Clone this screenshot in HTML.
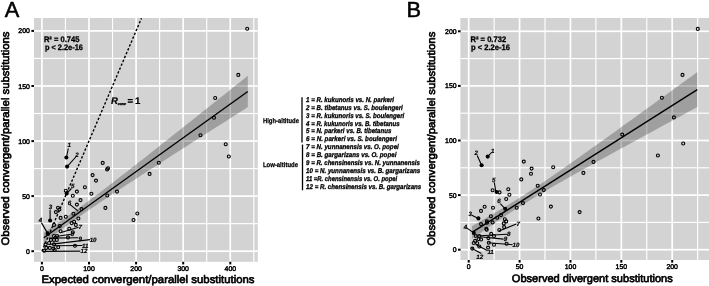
<!DOCTYPE html>
<html><head><meta charset="utf-8"><title>Figure</title>
<style>html,body{margin:0;padding:0;background:#fff}body{width:709px;height:286px;overflow:hidden}
svg{display:block}text{font-family:"Liberation Sans",sans-serif;fill:#000;text-rendering:geometricPrecision}</style></head>
<body><svg width="709" height="286" viewBox="0 0 709 286">
<rect width="709" height="286" fill="#fff"/>
<rect x="34" y="18" width="223.8" height="243.8" fill="#d3d3d3"/>
<rect x="41.05" y="18" width="1.7" height="243.8" fill="#fff"/>
<rect x="88.14" y="18" width="1.7" height="243.8" fill="#fff"/>
<rect x="135.23" y="18" width="1.7" height="243.8" fill="#fff"/>
<rect x="182.32" y="18" width="1.7" height="243.8" fill="#fff"/>
<rect x="229.41" y="18" width="1.7" height="243.8" fill="#fff"/>
<rect x="64.87" y="18" width="1.15" height="243.8" fill="#fff"/>
<rect x="111.96" y="18" width="1.15" height="243.8" fill="#fff"/>
<rect x="159.05" y="18" width="1.15" height="243.8" fill="#fff"/>
<rect x="206.14" y="18" width="1.15" height="243.8" fill="#fff"/>
<rect x="253.23" y="18" width="1.15" height="243.8" fill="#fff"/>
<rect x="34" y="250.35" width="223.8" height="1.7" fill="#fff"/>
<rect x="34" y="195.28" width="223.8" height="1.7" fill="#fff"/>
<rect x="34" y="140.20" width="223.8" height="1.7" fill="#fff"/>
<rect x="34" y="85.12" width="223.8" height="1.7" fill="#fff"/>
<rect x="34" y="30.05" width="223.8" height="1.7" fill="#fff"/>
<rect x="34" y="223.09" width="223.8" height="1.15" fill="#fff"/>
<rect x="34" y="168.01" width="223.8" height="1.15" fill="#fff"/>
<rect x="34" y="112.94" width="223.8" height="1.15" fill="#fff"/>
<rect x="34" y="57.86" width="223.8" height="1.15" fill="#fff"/>
<polygon points="43.8,232.8 47.8,230.1 51.8,227.3 55.8,224.6 59.8,221.8 63.8,219.0 67.8,216.1 71.8,213.2 75.8,210.4 79.8,207.4 83.8,204.5 87.8,201.5 91.8,198.5 95.8,195.5 99.8,192.5 103.8,189.5 107.8,186.4 111.8,183.3 115.8,180.2 119.8,177.1 123.8,174.0 127.8,170.9 131.8,167.8 135.8,164.7 139.8,161.5 143.8,158.4 147.8,155.2 151.8,152.1 155.8,148.9 159.8,145.8 163.8,142.6 167.8,139.4 171.8,136.3 175.8,133.1 179.8,129.9 183.8,126.7 187.8,123.6 191.8,120.4 195.8,117.2 199.8,114.0 203.8,110.8 207.8,107.7 211.8,104.5 215.8,101.3 219.8,98.1 223.8,94.9 227.8,91.7 231.8,88.5 235.8,85.3 239.8,82.2 243.8,79.0 247.8,75.8 247.8,75.8 247.8,107.1 247.8,107.1 243.8,109.7 239.8,112.2 235.8,114.8 231.8,117.3 227.8,119.9 223.8,122.4 219.8,125.0 215.8,127.5 211.8,130.1 207.8,132.6 203.8,135.2 199.8,137.7 195.8,140.3 191.8,142.8 187.8,145.4 183.8,147.9 179.8,150.5 175.8,153.1 171.8,155.6 167.8,158.2 163.8,160.8 159.8,163.3 155.8,165.9 151.8,168.5 147.8,171.1 143.8,173.7 139.8,176.3 135.8,178.9 131.8,181.5 127.8,184.1 123.8,186.7 119.8,189.3 115.8,192.0 111.8,194.6 107.8,197.3 103.8,200.0 99.8,202.6 95.8,205.4 91.8,208.1 87.8,210.8 83.8,213.6 79.8,216.4 75.8,219.2 71.8,222.1 67.8,224.9 63.8,227.8 59.8,230.7 55.8,233.7 51.8,236.7 47.8,239.6 43.8,242.7" fill="#404040" fill-opacity="0.35"/>
<line x1="43.8" y1="237.7" x2="247.8" y2="91.5" stroke="#000" stroke-width="1.4"/>
<line x1="41.9" y1="251.2" x2="141.5" y2="18.2" stroke="#000" stroke-width="1.4" stroke-dasharray="2.4 1.8"/>
<circle cx="247.2" cy="28.7" r="1.5" fill="none" stroke="#000" stroke-width="1.1"/>
<circle cx="238.3" cy="74.9" r="1.5" fill="none" stroke="#000" stroke-width="1.1"/>
<circle cx="215.2" cy="98.0" r="1.5" fill="none" stroke="#000" stroke-width="1.1"/>
<circle cx="214.0" cy="117.7" r="1.5" fill="none" stroke="#000" stroke-width="1.1"/>
<circle cx="200.5" cy="135.2" r="1.5" fill="none" stroke="#000" stroke-width="1.1"/>
<circle cx="225.7" cy="144.2" r="1.5" fill="none" stroke="#000" stroke-width="1.1"/>
<circle cx="228.8" cy="156.5" r="1.5" fill="none" stroke="#000" stroke-width="1.1"/>
<circle cx="102.7" cy="162.9" r="1.5" fill="none" stroke="#000" stroke-width="1.1"/>
<circle cx="107.1" cy="169.4" r="1.5" fill="none" stroke="#000" stroke-width="1.1"/>
<circle cx="108.0" cy="168.3" r="1.5" fill="none" stroke="#000" stroke-width="1.1"/>
<circle cx="92.6" cy="175.1" r="1.5" fill="none" stroke="#000" stroke-width="1.1"/>
<circle cx="96.0" cy="180.6" r="1.5" fill="none" stroke="#000" stroke-width="1.1"/>
<circle cx="84.9" cy="187.3" r="1.5" fill="none" stroke="#000" stroke-width="1.1"/>
<circle cx="158.8" cy="162.8" r="1.5" fill="none" stroke="#000" stroke-width="1.1"/>
<circle cx="149.6" cy="173.9" r="1.5" fill="none" stroke="#000" stroke-width="1.1"/>
<circle cx="76.9" cy="191.6" r="1.5" fill="none" stroke="#000" stroke-width="1.1"/>
<circle cx="72.8" cy="195.8" r="1.5" fill="none" stroke="#000" stroke-width="1.1"/>
<circle cx="58.0" cy="207.7" r="1.5" fill="none" stroke="#000" stroke-width="1.1"/>
<circle cx="59.4" cy="209.5" r="1.5" fill="none" stroke="#000" stroke-width="1.1"/>
<circle cx="55.9" cy="212.1" r="1.5" fill="none" stroke="#000" stroke-width="1.1"/>
<circle cx="76.9" cy="204.6" r="1.5" fill="none" stroke="#000" stroke-width="1.1"/>
<circle cx="65.8" cy="216.8" r="1.5" fill="none" stroke="#000" stroke-width="1.1"/>
<circle cx="60.6" cy="217.9" r="1.5" fill="none" stroke="#000" stroke-width="1.1"/>
<circle cx="73.4" cy="213.8" r="1.5" fill="none" stroke="#000" stroke-width="1.1"/>
<circle cx="54.0" cy="224.9" r="1.5" fill="none" stroke="#000" stroke-width="1.1"/>
<circle cx="59.7" cy="226.1" r="1.5" fill="none" stroke="#000" stroke-width="1.1"/>
<circle cx="74.1" cy="221.7" r="1.5" fill="none" stroke="#000" stroke-width="1.1"/>
<circle cx="71.6" cy="223.1" r="1.5" fill="none" stroke="#000" stroke-width="1.1"/>
<circle cx="75.8" cy="224.9" r="1.5" fill="none" stroke="#000" stroke-width="1.1"/>
<circle cx="69.3" cy="228.7" r="1.5" fill="none" stroke="#000" stroke-width="1.1"/>
<circle cx="60.6" cy="231.3" r="1.5" fill="none" stroke="#000" stroke-width="1.1"/>
<circle cx="72.8" cy="232.2" r="1.5" fill="none" stroke="#000" stroke-width="1.1"/>
<circle cx="65.8" cy="190.7" r="1.5" fill="none" stroke="#000" stroke-width="1.1"/>
<circle cx="91.4" cy="193.8" r="1.5" fill="none" stroke="#000" stroke-width="1.1"/>
<circle cx="80.5" cy="200.1" r="1.5" fill="none" stroke="#000" stroke-width="1.1"/>
<circle cx="107.3" cy="195.5" r="1.5" fill="none" stroke="#000" stroke-width="1.1"/>
<circle cx="117.0" cy="191.6" r="1.5" fill="none" stroke="#000" stroke-width="1.1"/>
<circle cx="105.4" cy="207.9" r="1.5" fill="none" stroke="#000" stroke-width="1.1"/>
<circle cx="81.5" cy="209.1" r="1.5" fill="none" stroke="#000" stroke-width="1.1"/>
<circle cx="78.4" cy="218.5" r="1.5" fill="none" stroke="#000" stroke-width="1.1"/>
<circle cx="137.3" cy="213.5" r="1.5" fill="none" stroke="#000" stroke-width="1.1"/>
<circle cx="133.5" cy="220.0" r="1.5" fill="none" stroke="#000" stroke-width="1.1"/>
<circle cx="54.0" cy="236.0" r="1.5" fill="none" stroke="#000" stroke-width="1.1"/>
<circle cx="57.0" cy="236.0" r="1.5" fill="none" stroke="#000" stroke-width="1.1"/>
<circle cx="68.0" cy="237.4" r="1.5" fill="none" stroke="#000" stroke-width="1.1"/>
<circle cx="50.9" cy="239.9" r="1.5" fill="none" stroke="#000" stroke-width="1.1"/>
<circle cx="54.0" cy="239.9" r="1.5" fill="none" stroke="#000" stroke-width="1.1"/>
<circle cx="56.8" cy="239.9" r="1.5" fill="none" stroke="#000" stroke-width="1.1"/>
<circle cx="49.1" cy="243.0" r="1.5" fill="none" stroke="#000" stroke-width="1.1"/>
<circle cx="45.6" cy="244.4" r="1.5" fill="none" stroke="#000" stroke-width="1.1"/>
<circle cx="54.0" cy="244.4" r="1.5" fill="none" stroke="#000" stroke-width="1.1"/>
<circle cx="75.0" cy="245.8" r="1.5" fill="none" stroke="#000" stroke-width="1.1"/>
<circle cx="58.2" cy="247.2" r="1.5" fill="none" stroke="#000" stroke-width="1.1"/>
<circle cx="46.3" cy="247.9" r="1.5" fill="none" stroke="#000" stroke-width="1.1"/>
<circle cx="49.8" cy="247.9" r="1.5" fill="none" stroke="#000" stroke-width="1.1"/>
<circle cx="53.3" cy="248.6" r="1.5" fill="none" stroke="#000" stroke-width="1.1"/>
<circle cx="44.2" cy="250.7" r="1.5" fill="none" stroke="#000" stroke-width="1.1"/>
<circle cx="54.7" cy="250.0" r="1.5" fill="none" stroke="#000" stroke-width="1.1"/>
<circle cx="66.4" cy="157.5" r="2.05" fill="#000"/>
<line x1="66.4" y1="157.5" x2="68.3" y2="148.5" stroke="#000" stroke-width="1.1"/>
<text x="69.3" y="147.4" font-size="6.2" text-anchor="middle" font-weight="bold" font-style="italic" stroke="#000" stroke-width="0.2">1</text>
<circle cx="67.1" cy="166.6" r="2.05" fill="#000"/>
<line x1="67.1" y1="166.6" x2="75.8" y2="157.0" stroke="#000" stroke-width="1.1"/>
<text x="77.0" y="156.5" font-size="6.2" text-anchor="middle" font-weight="bold" font-style="italic" stroke="#000" stroke-width="0.2">2</text>
<circle cx="50.1" cy="220.5" r="2.05" fill="#000"/>
<line x1="50.1" y1="220.5" x2="50.1" y2="209.8" stroke="#000" stroke-width="1.1"/>
<text x="50.5" y="209.1" font-size="6.2" text-anchor="middle" font-weight="bold" font-style="italic" stroke="#000" stroke-width="0.2">3</text>
<circle cx="47.7" cy="233.4" r="2.05" fill="#000"/>
<line x1="47.7" y1="233.4" x2="41.4" y2="222.6" stroke="#000" stroke-width="1.1"/>
<text x="40.6" y="222.2" font-size="6.2" text-anchor="middle" font-weight="bold" font-style="italic" stroke="#000" stroke-width="0.2">4</text>
<circle cx="66.7" cy="193.4" r="2.05" fill="#000"/>
<line x1="66.7" y1="193.4" x2="71.5" y2="188.5" stroke="#000" stroke-width="1.1"/>
<text x="72.8" y="188.4" font-size="6.2" text-anchor="middle" font-weight="bold" font-style="italic" stroke="#000" stroke-width="0.2">5</text>
<line x1="78.1" y1="211.2" x2="69.9" y2="204.4" stroke="#000" stroke-width="1.1"/>
<text x="69.5" y="204.5" font-size="6.2" text-anchor="middle" font-weight="bold" font-style="italic" stroke="#000" stroke-width="0.2">6</text>
<line x1="61.0" y1="232.5" x2="78.5" y2="227.3" stroke="#000" stroke-width="1.1"/>
<text x="80.2" y="228.8" font-size="6.2" text-anchor="middle" font-weight="bold" font-style="italic" stroke="#000" stroke-width="0.2">7</text>
<line x1="54.0" y1="236.7" x2="71.0" y2="234.3" stroke="#000" stroke-width="1.1"/>
<text x="72.4" y="236.2" font-size="6.2" text-anchor="middle" font-weight="bold" font-style="italic" stroke="#000" stroke-width="0.2">8</text>
<line x1="49.1" y1="238.1" x2="78.3" y2="237.7" stroke="#000" stroke-width="1.1"/>
<text x="80.2" y="240.6" font-size="6.2" text-anchor="middle" font-weight="bold" font-style="italic" stroke="#000" stroke-width="0.2">9</text>
<line x1="49.8" y1="244.4" x2="90.0" y2="239.6" stroke="#000" stroke-width="1.1"/>
<text x="93.1" y="242.0" font-size="6.2" text-anchor="middle" font-weight="bold" font-style="italic" stroke="#000" stroke-width="0.2">10</text>
<line x1="54.0" y1="245.8" x2="82.4" y2="245.5" stroke="#000" stroke-width="1.1"/>
<text x="85.3" y="247.7" font-size="6.2" text-anchor="middle" font-weight="bold" font-style="italic" stroke="#000" stroke-width="0.2">11</text>
<line x1="42.8" y1="251.4" x2="80.4" y2="251.1" stroke="#000" stroke-width="1.1"/>
<text x="83.9" y="253.4" font-size="6.2" text-anchor="middle" font-weight="bold" font-style="italic" stroke="#000" stroke-width="0.2">12</text>
<text x="43.9" y="41.8" font-size="8" text-anchor="start" font-weight="bold" font-style="normal" textLength="35.6" lengthAdjust="spacingAndGlyphs" stroke="#000" stroke-width="0.3">R² = 0.745</text>
<text x="44.9" y="49.5" font-size="8" text-anchor="start" font-weight="bold" font-style="normal" textLength="38" lengthAdjust="spacingAndGlyphs" stroke="#000" stroke-width="0.3">p &lt; 2.2e-16</text>
<text y="104.2" font-size="9.6" font-weight="bold" stroke="#000" stroke-width="0.2"><tspan x="111.0" font-style="italic">R</tspan><tspan x="117.8" y="104.6" font-size="3.4" font-style="italic" stroke-width="0.35" textLength="8" lengthAdjust="spacingAndGlyphs">conv</tspan><tspan font-size="0.1"> </tspan><tspan x="127.4" y="104.2">= </tspan><tspan x="135.1">1</tspan></text>
<rect x="31.4" y="250.2" width="2.6" height="2" fill="#000"/>
<text x="29.8" y="253.7" font-size="6.9" text-anchor="end" font-weight="normal" font-style="normal" stroke="#000" stroke-width="0.45">0</text>
<rect x="31.4" y="195.1" width="2.6" height="2" fill="#000"/>
<text x="29.8" y="198.6" font-size="6.9" text-anchor="end" font-weight="normal" font-style="normal" stroke="#000" stroke-width="0.45">50</text>
<rect x="31.4" y="140.1" width="2.6" height="2" fill="#000"/>
<text x="29.8" y="143.6" font-size="6.9" text-anchor="end" font-weight="normal" font-style="normal" stroke="#000" stroke-width="0.45">100</text>
<rect x="31.4" y="85.0" width="2.6" height="2" fill="#000"/>
<text x="29.8" y="88.5" font-size="6.9" text-anchor="end" font-weight="normal" font-style="normal" stroke="#000" stroke-width="0.45">150</text>
<rect x="31.4" y="29.9" width="2.6" height="2" fill="#000"/>
<text x="29.8" y="33.4" font-size="6.9" text-anchor="end" font-weight="normal" font-style="normal" stroke="#000" stroke-width="0.45">200</text>
<rect x="40.9" y="261.8" width="2" height="2.6" fill="#000"/>
<text x="41.9" y="271.2" font-size="6.9" text-anchor="middle" font-weight="normal" font-style="normal" stroke="#000" stroke-width="0.45">0</text>
<rect x="88.0" y="261.8" width="2" height="2.6" fill="#000"/>
<text x="89.0" y="271.2" font-size="6.9" text-anchor="middle" font-weight="normal" font-style="normal" stroke="#000" stroke-width="0.45">100</text>
<rect x="135.1" y="261.8" width="2" height="2.6" fill="#000"/>
<text x="136.1" y="271.2" font-size="6.9" text-anchor="middle" font-weight="normal" font-style="normal" stroke="#000" stroke-width="0.45">200</text>
<rect x="182.2" y="261.8" width="2" height="2.6" fill="#000"/>
<text x="183.2" y="271.2" font-size="6.9" text-anchor="middle" font-weight="normal" font-style="normal" stroke="#000" stroke-width="0.45">300</text>
<rect x="229.3" y="261.8" width="2" height="2.6" fill="#000"/>
<text x="230.3" y="271.2" font-size="6.9" text-anchor="middle" font-weight="normal" font-style="normal" stroke="#000" stroke-width="0.45">400</text>
<text x="41.5" y="283.1" font-size="10.8" text-anchor="start" font-weight="normal" font-style="normal" textLength="213" lengthAdjust="spacingAndGlyphs" stroke="#000" stroke-width="0.65">Expected convergent/parallel substitutions</text>
<text transform="translate(8.9,245.5) rotate(-90)" font-size="10.8" textLength="214" lengthAdjust="spacingAndGlyphs" stroke="#000" stroke-width="0.65">Observed convergent/parallel substitutions</text>
<text x="4.8" y="17.2" font-size="21.8" text-anchor="start" font-weight="normal" font-style="normal" stroke="#000" stroke-width="0.5">A</text>
<text x="263.0" y="123.4" font-size="6.9" text-anchor="start" font-weight="bold" font-style="normal" textLength="35.9" lengthAdjust="spacingAndGlyphs" stroke="#000" stroke-width="0.25">High-altitude</text>
<text x="262.9" y="167.4" font-size="6.9" text-anchor="start" font-weight="bold" font-style="normal" textLength="35.1" lengthAdjust="spacingAndGlyphs" stroke="#000" stroke-width="0.25">Low-altitude</text>
<line x1="302.0" y1="97.3" x2="302.0" y2="142.4" stroke="#000" stroke-width="1.3"/>
<line x1="302.5" y1="144.6" x2="302.5" y2="190.3" stroke="#000" stroke-width="1.3"/>
<text x="306.1" y="101.9" font-size="6.9" text-anchor="start" font-weight="bold" font-style="italic" textLength="87.9" lengthAdjust="spacingAndGlyphs" stroke="#000" stroke-width="0.3">1 = R. kukunoris vs. N. parkeri</text>
<text x="306.1" y="109.8" font-size="6.9" text-anchor="start" font-weight="bold" font-style="italic" textLength="96.7" lengthAdjust="spacingAndGlyphs" stroke="#000" stroke-width="0.3">2 = B. tibetanus vs. S. boulengeri</text>
<text x="306.1" y="117.6" font-size="6.9" text-anchor="start" font-weight="bold" font-style="italic" textLength="98.2" lengthAdjust="spacingAndGlyphs" stroke="#000" stroke-width="0.3">3 = R. kukunoris vs. S. boulengeri</text>
<text x="306.1" y="125.5" font-size="6.9" text-anchor="start" font-weight="bold" font-style="italic" textLength="93.5" lengthAdjust="spacingAndGlyphs" stroke="#000" stroke-width="0.3">4 = R. kukunoris vs. B. tibetanus</text>
<text x="306.1" y="133.4" font-size="6.9" text-anchor="start" font-weight="bold" font-style="italic" textLength="85.2" lengthAdjust="spacingAndGlyphs" stroke="#000" stroke-width="0.3">5 = N. parkeri vs. B. tibetanus</text>
<text x="306.1" y="141.2" font-size="6.9" text-anchor="start" font-weight="bold" font-style="italic" textLength="90.8" lengthAdjust="spacingAndGlyphs" stroke="#000" stroke-width="0.3">6 = N. parkeri vs. S. boulengeri</text>
<text x="306.1" y="149.1" font-size="6.9" text-anchor="start" font-weight="bold" font-style="italic" textLength="92.7" lengthAdjust="spacingAndGlyphs" stroke="#000" stroke-width="0.3">7 = N. yunnanensis vs. O. popei</text>
<text x="306.1" y="157.0" font-size="6.9" text-anchor="start" font-weight="bold" font-style="italic" textLength="90.3" lengthAdjust="spacingAndGlyphs" stroke="#000" stroke-width="0.3">8 = B. gargarizans vs. O. popei</text>
<text x="306.1" y="164.9" font-size="6.9" text-anchor="start" font-weight="bold" font-style="italic" textLength="113.8" lengthAdjust="spacingAndGlyphs" stroke="#000" stroke-width="0.3">9 = R. chensinensis vs. N. yunnanensis</text>
<text x="306.1" y="172.7" font-size="6.9" text-anchor="start" font-weight="bold" font-style="italic" textLength="114.2" lengthAdjust="spacingAndGlyphs" stroke="#000" stroke-width="0.3">10 = N. yunnanensis vs. B. gargarizans</text>
<text x="306.1" y="180.6" font-size="6.9" text-anchor="start" font-weight="bold" font-style="italic" textLength="91.1" lengthAdjust="spacingAndGlyphs" stroke="#000" stroke-width="0.3">11 =R. chensinensis vs. O. popei</text>
<text x="306.1" y="188.5" font-size="6.9" text-anchor="start" font-weight="bold" font-style="italic" textLength="115.2" lengthAdjust="spacingAndGlyphs" stroke="#000" stroke-width="0.3">12 = R. chensinensis vs. B. gargarizans</text>
<rect x="460.4" y="18" width="248.60000000000002" height="242" fill="#d3d3d3"/>
<rect x="467.85" y="18" width="1.7" height="242" fill="#fff"/>
<rect x="518.73" y="18" width="1.7" height="242" fill="#fff"/>
<rect x="569.60" y="18" width="1.7" height="242" fill="#fff"/>
<rect x="620.48" y="18" width="1.7" height="242" fill="#fff"/>
<rect x="671.35" y="18" width="1.7" height="242" fill="#fff"/>
<rect x="493.56" y="18" width="1.15" height="242" fill="#fff"/>
<rect x="544.44" y="18" width="1.15" height="242" fill="#fff"/>
<rect x="595.31" y="18" width="1.15" height="242" fill="#fff"/>
<rect x="646.19" y="18" width="1.15" height="242" fill="#fff"/>
<rect x="697.06" y="18" width="1.15" height="242" fill="#fff"/>
<rect x="460.4" y="248.85" width="248.60000000000002" height="1.7" fill="#fff"/>
<rect x="460.4" y="194.25" width="248.60000000000002" height="1.7" fill="#fff"/>
<rect x="460.4" y="139.65" width="248.60000000000002" height="1.7" fill="#fff"/>
<rect x="460.4" y="85.05" width="248.60000000000002" height="1.7" fill="#fff"/>
<rect x="460.4" y="30.45" width="248.60000000000002" height="1.7" fill="#fff"/>
<rect x="460.4" y="221.82" width="248.60000000000002" height="1.15" fill="#fff"/>
<rect x="460.4" y="167.22" width="248.60000000000002" height="1.15" fill="#fff"/>
<rect x="460.4" y="112.62" width="248.60000000000002" height="1.15" fill="#fff"/>
<rect x="460.4" y="58.02" width="248.60000000000002" height="1.15" fill="#fff"/>
<polygon points="472.0,226.0 476.0,223.7 480.0,221.4 484.0,219.1 488.0,216.8 492.0,214.5 496.0,212.1 500.0,209.8 504.0,207.4 508.0,204.9 512.0,202.5 516.0,200.0 520.0,197.5 524.0,194.9 528.0,192.3 532.0,189.7 536.0,187.1 540.0,184.4 544.0,181.7 548.0,179.0 552.0,176.3 556.0,173.5 560.0,170.7 564.0,167.9 568.0,165.1 572.0,162.3 576.0,159.5 580.0,156.7 584.0,153.8 588.0,151.0 592.0,148.1 596.0,145.3 600.0,142.4 604.0,139.5 608.0,136.7 612.0,133.8 616.0,130.9 620.0,128.0 624.0,125.1 628.0,122.3 632.0,119.4 636.0,116.5 640.0,113.6 644.0,110.7 648.0,107.8 652.0,104.9 656.0,102.0 660.0,99.1 664.0,96.2 668.0,93.3 672.0,90.4 676.0,87.5 680.0,84.6 684.0,81.7 688.0,78.8 692.0,75.9 696.0,73.0 697.3,72.1 697.3,107.1 696.0,107.8 692.0,109.9 688.0,112.1 684.0,114.3 680.0,116.5 676.0,118.6 672.0,120.8 668.0,123.0 664.0,125.1 660.0,127.3 656.0,129.5 652.0,131.7 648.0,133.8 644.0,136.0 640.0,138.2 636.0,140.4 632.0,142.6 628.0,144.8 624.0,146.9 620.0,149.1 616.0,151.3 612.0,153.5 608.0,155.7 604.0,157.9 600.0,160.1 596.0,162.3 592.0,164.5 588.0,166.8 584.0,169.0 580.0,171.2 576.0,173.5 572.0,175.7 568.0,178.0 564.0,180.2 560.0,182.5 556.0,184.8 552.0,187.1 548.0,189.5 544.0,191.8 540.0,194.2 536.0,196.6 532.0,199.0 528.0,201.5 524.0,204.0 520.0,206.5 516.0,209.0 512.0,211.6 508.0,214.2 504.0,216.9 500.0,219.5 496.0,222.2 492.0,225.0 488.0,227.7 484.0,230.5 480.0,233.2 476.0,236.0 472.0,238.8" fill="#404040" fill-opacity="0.35"/>
<line x1="472.0" y1="232.4" x2="697.3" y2="89.6" stroke="#000" stroke-width="1.4"/>
<circle cx="697.8" cy="28.9" r="1.5" fill="none" stroke="#000" stroke-width="1.1"/>
<circle cx="682.5" cy="74.9" r="1.5" fill="none" stroke="#000" stroke-width="1.1"/>
<circle cx="661.9" cy="97.7" r="1.5" fill="none" stroke="#000" stroke-width="1.1"/>
<circle cx="673.9" cy="117.4" r="1.5" fill="none" stroke="#000" stroke-width="1.1"/>
<circle cx="683.2" cy="143.5" r="1.5" fill="none" stroke="#000" stroke-width="1.1"/>
<circle cx="657.9" cy="155.5" r="1.5" fill="none" stroke="#000" stroke-width="1.1"/>
<circle cx="622.2" cy="134.6" r="1.5" fill="none" stroke="#000" stroke-width="1.1"/>
<circle cx="593.5" cy="161.9" r="1.5" fill="none" stroke="#000" stroke-width="1.1"/>
<circle cx="583.4" cy="172.9" r="1.5" fill="none" stroke="#000" stroke-width="1.1"/>
<circle cx="553.2" cy="167.3" r="1.5" fill="none" stroke="#000" stroke-width="1.1"/>
<circle cx="543.8" cy="190.1" r="1.5" fill="none" stroke="#000" stroke-width="1.1"/>
<circle cx="540.0" cy="194.5" r="1.5" fill="none" stroke="#000" stroke-width="1.1"/>
<circle cx="531.0" cy="173.8" r="1.5" fill="none" stroke="#000" stroke-width="1.1"/>
<circle cx="521.3" cy="179.4" r="1.5" fill="none" stroke="#000" stroke-width="1.1"/>
<circle cx="537.7" cy="185.7" r="1.5" fill="none" stroke="#000" stroke-width="1.1"/>
<circle cx="508.3" cy="189.3" r="1.5" fill="none" stroke="#000" stroke-width="1.1"/>
<circle cx="509.4" cy="194.8" r="1.5" fill="none" stroke="#000" stroke-width="1.1"/>
<circle cx="506.2" cy="199.0" r="1.5" fill="none" stroke="#000" stroke-width="1.1"/>
<circle cx="523.0" cy="203.1" r="1.5" fill="none" stroke="#000" stroke-width="1.1"/>
<circle cx="516.7" cy="207.8" r="1.5" fill="none" stroke="#000" stroke-width="1.1"/>
<circle cx="484.6" cy="206.7" r="1.5" fill="none" stroke="#000" stroke-width="1.1"/>
<circle cx="493.0" cy="207.8" r="1.5" fill="none" stroke="#000" stroke-width="1.1"/>
<circle cx="481.0" cy="210.9" r="1.5" fill="none" stroke="#000" stroke-width="1.1"/>
<circle cx="490.9" cy="216.2" r="1.5" fill="none" stroke="#000" stroke-width="1.1"/>
<circle cx="497.2" cy="217.8" r="1.5" fill="none" stroke="#000" stroke-width="1.1"/>
<circle cx="501.0" cy="215.1" r="1.5" fill="none" stroke="#000" stroke-width="1.1"/>
<circle cx="504.8" cy="219.3" r="1.5" fill="none" stroke="#000" stroke-width="1.1"/>
<circle cx="506.2" cy="221.4" r="1.5" fill="none" stroke="#000" stroke-width="1.1"/>
<circle cx="486.9" cy="221.4" r="1.5" fill="none" stroke="#000" stroke-width="1.1"/>
<circle cx="481.0" cy="224.1" r="1.5" fill="none" stroke="#000" stroke-width="1.1"/>
<circle cx="492.6" cy="222.4" r="1.5" fill="none" stroke="#000" stroke-width="1.1"/>
<circle cx="538.4" cy="218.5" r="1.5" fill="none" stroke="#000" stroke-width="1.1"/>
<circle cx="504.1" cy="227.1" r="1.5" fill="none" stroke="#000" stroke-width="1.1"/>
<circle cx="486.3" cy="228.7" r="1.5" fill="none" stroke="#000" stroke-width="1.1"/>
<circle cx="499.3" cy="230.0" r="1.5" fill="none" stroke="#000" stroke-width="1.1"/>
<circle cx="523.8" cy="161.6" r="1.5" fill="none" stroke="#000" stroke-width="1.1"/>
<circle cx="531.6" cy="168.6" r="1.5" fill="none" stroke="#000" stroke-width="1.1"/>
<circle cx="550.9" cy="206.6" r="1.5" fill="none" stroke="#000" stroke-width="1.1"/>
<circle cx="579.6" cy="212.1" r="1.5" fill="none" stroke="#000" stroke-width="1.1"/>
<circle cx="499.5" cy="192.4" r="1.5" fill="none" stroke="#000" stroke-width="1.1"/>
<circle cx="492.6" cy="190.3" r="1.5" fill="none" stroke="#000" stroke-width="1.1"/>
<circle cx="487.0" cy="222.7" r="1.5" fill="none" stroke="#000" stroke-width="1.1"/>
<circle cx="503.8" cy="223.4" r="1.5" fill="none" stroke="#000" stroke-width="1.1"/>
<circle cx="486.7" cy="229.7" r="1.5" fill="none" stroke="#000" stroke-width="1.1"/>
<circle cx="491.2" cy="233.9" r="1.5" fill="none" stroke="#000" stroke-width="1.1"/>
<circle cx="494.0" cy="236.0" r="1.5" fill="none" stroke="#000" stroke-width="1.1"/>
<circle cx="475.8" cy="236.0" r="1.5" fill="none" stroke="#000" stroke-width="1.1"/>
<circle cx="479.3" cy="236.0" r="1.5" fill="none" stroke="#000" stroke-width="1.1"/>
<circle cx="488.4" cy="238.1" r="1.5" fill="none" stroke="#000" stroke-width="1.1"/>
<circle cx="478.6" cy="239.1" r="1.5" fill="none" stroke="#000" stroke-width="1.1"/>
<circle cx="481.1" cy="239.5" r="1.5" fill="none" stroke="#000" stroke-width="1.1"/>
<circle cx="475.1" cy="240.9" r="1.5" fill="none" stroke="#000" stroke-width="1.1"/>
<circle cx="473.7" cy="243.0" r="1.5" fill="none" stroke="#000" stroke-width="1.1"/>
<circle cx="477.2" cy="243.3" r="1.5" fill="none" stroke="#000" stroke-width="1.1"/>
<circle cx="488.8" cy="242.7" r="1.5" fill="none" stroke="#000" stroke-width="1.1"/>
<circle cx="494.0" cy="244.7" r="1.5" fill="none" stroke="#000" stroke-width="1.1"/>
<circle cx="506.6" cy="243.7" r="1.5" fill="none" stroke="#000" stroke-width="1.1"/>
<circle cx="479.3" cy="246.5" r="1.5" fill="none" stroke="#000" stroke-width="1.1"/>
<circle cx="488.1" cy="247.6" r="1.5" fill="none" stroke="#000" stroke-width="1.1"/>
<circle cx="472.3" cy="248.6" r="1.5" fill="none" stroke="#000" stroke-width="1.1"/>
<circle cx="487.7" cy="156.6" r="2.05" fill="#000"/>
<line x1="487.7" y1="156.6" x2="491.5" y2="152.5" stroke="#000" stroke-width="1.1"/>
<text x="492.7" y="153.2" font-size="6.2" text-anchor="middle" font-weight="bold" font-style="italic" stroke="#000" stroke-width="0.2">1</text>
<circle cx="481.6" cy="165.2" r="2.05" fill="#000"/>
<line x1="481.6" y1="165.2" x2="477.2" y2="155.5" stroke="#000" stroke-width="1.1"/>
<text x="476.3" y="155.3" font-size="6.2" text-anchor="middle" font-weight="bold" font-style="italic" stroke="#000" stroke-width="0.2">2</text>
<circle cx="478.4" cy="218.4" r="2.05" fill="#000"/>
<line x1="478.4" y1="218.4" x2="471.9" y2="215.2" stroke="#000" stroke-width="1.1"/>
<text x="470.3" y="216.3" font-size="6.2" text-anchor="middle" font-weight="bold" font-style="italic" stroke="#000" stroke-width="0.2">3</text>
<circle cx="473.8" cy="232.9" r="2.05" fill="#000"/>
<line x1="473.8" y1="232.9" x2="466.3" y2="227.6" stroke="#000" stroke-width="1.1"/>
<text x="465.4" y="229.2" font-size="6.2" text-anchor="middle" font-weight="bold" font-style="italic" stroke="#000" stroke-width="0.2">4</text>
<circle cx="496.6" cy="192.0" r="2.05" fill="#000"/>
<line x1="495.7" y1="191.0" x2="494.3" y2="182.4" stroke="#000" stroke-width="1.1"/>
<text x="493.8" y="181.8" font-size="6.2" text-anchor="middle" font-weight="bold" font-style="italic" stroke="#000" stroke-width="0.2">5</text>
<circle cx="505.2" cy="208.8" r="2.05" fill="#000"/>
<line x1="505.2" y1="208.8" x2="500.3" y2="203.6" stroke="#000" stroke-width="1.1"/>
<text x="499.0" y="203.2" font-size="6.2" text-anchor="middle" font-weight="bold" font-style="italic" stroke="#000" stroke-width="0.2">6</text>
<line x1="499.0" y1="231.1" x2="516.3" y2="224.1" stroke="#000" stroke-width="1.1"/>
<text x="518.2" y="225.6" font-size="6.2" text-anchor="middle" font-weight="bold" font-style="italic" stroke="#000" stroke-width="0.2">7</text>
<line x1="475.8" y1="236.0" x2="507.0" y2="234.3" stroke="#000" stroke-width="1.1"/>
<text x="508.8" y="236.1" font-size="6.2" text-anchor="middle" font-weight="bold" font-style="italic" stroke="#000" stroke-width="0.2">8</text>
<line x1="480.0" y1="236.7" x2="503.6" y2="239.1" stroke="#000" stroke-width="1.1"/>
<text x="505.6" y="241.3" font-size="6.2" text-anchor="middle" font-weight="bold" font-style="italic" stroke="#000" stroke-width="0.2">9</text>
<line x1="488.4" y1="242.7" x2="512.6" y2="244.7" stroke="#000" stroke-width="1.1"/>
<text x="515.9" y="247.3" font-size="6.2" text-anchor="middle" font-weight="bold" font-style="italic" stroke="#000" stroke-width="0.2">10</text>
<line x1="475.8" y1="244.4" x2="487.7" y2="250.7" stroke="#000" stroke-width="1.1"/>
<text x="490.6" y="253.8" font-size="6.2" text-anchor="middle" font-weight="bold" font-style="italic" stroke="#000" stroke-width="0.2">11</text>
<line x1="471.6" y1="248.3" x2="481.4" y2="253.5" stroke="#000" stroke-width="1.1"/>
<text x="479.8" y="259.1" font-size="6.2" text-anchor="middle" font-weight="bold" font-style="italic" stroke="#000" stroke-width="0.2">12</text>
<text x="470.5" y="41.8" font-size="8" text-anchor="start" font-weight="bold" font-style="normal" textLength="35.6" lengthAdjust="spacingAndGlyphs" stroke="#000" stroke-width="0.3">R² = 0.732</text>
<text x="471.0" y="49.5" font-size="8" text-anchor="start" font-weight="bold" font-style="normal" textLength="39" lengthAdjust="spacingAndGlyphs" stroke="#000" stroke-width="0.3">p &lt; 2.2e-16</text>
<rect x="458.0" y="248.7" width="2.6" height="2" fill="#000"/>
<text x="456.6" y="252.2" font-size="6.9" text-anchor="end" font-weight="normal" font-style="normal" stroke="#000" stroke-width="0.45">0</text>
<rect x="458.0" y="194.1" width="2.6" height="2" fill="#000"/>
<text x="456.6" y="197.6" font-size="6.9" text-anchor="end" font-weight="normal" font-style="normal" stroke="#000" stroke-width="0.45">50</text>
<rect x="458.0" y="139.5" width="2.6" height="2" fill="#000"/>
<text x="456.6" y="143.0" font-size="6.9" text-anchor="end" font-weight="normal" font-style="normal" stroke="#000" stroke-width="0.45">100</text>
<rect x="458.0" y="84.9" width="2.6" height="2" fill="#000"/>
<text x="456.6" y="88.4" font-size="6.9" text-anchor="end" font-weight="normal" font-style="normal" stroke="#000" stroke-width="0.45">150</text>
<rect x="458.0" y="30.3" width="2.6" height="2" fill="#000"/>
<text x="456.6" y="33.8" font-size="6.9" text-anchor="end" font-weight="normal" font-style="normal" stroke="#000" stroke-width="0.45">200</text>
<rect x="467.7" y="260" width="2" height="2.6" fill="#000"/>
<text x="468.7" y="269.2" font-size="6.9" text-anchor="middle" font-weight="normal" font-style="normal" stroke="#000" stroke-width="0.45">0</text>
<rect x="518.6" y="260" width="2" height="2.6" fill="#000"/>
<text x="519.6" y="269.2" font-size="6.9" text-anchor="middle" font-weight="normal" font-style="normal" stroke="#000" stroke-width="0.45">50</text>
<rect x="569.5" y="260" width="2" height="2.6" fill="#000"/>
<text x="570.5" y="269.2" font-size="6.9" text-anchor="middle" font-weight="normal" font-style="normal" stroke="#000" stroke-width="0.45">100</text>
<rect x="620.3" y="260" width="2" height="2.6" fill="#000"/>
<text x="621.3" y="269.2" font-size="6.9" text-anchor="middle" font-weight="normal" font-style="normal" stroke="#000" stroke-width="0.45">150</text>
<rect x="671.2" y="260" width="2" height="2.6" fill="#000"/>
<text x="672.2" y="269.2" font-size="6.9" text-anchor="middle" font-weight="normal" font-style="normal" stroke="#000" stroke-width="0.45">200</text>
<text x="511.8" y="281.9" font-size="10.8" text-anchor="start" font-weight="normal" font-style="normal" textLength="161" lengthAdjust="spacingAndGlyphs" stroke="#000" stroke-width="0.65">Observed divergent substitutions</text>
<text transform="translate(435.4,245.7) rotate(-90)" font-size="10.8" textLength="214" lengthAdjust="spacingAndGlyphs" stroke="#000" stroke-width="0.65">Observed convergent/parallel substitutions</text>
<text x="406.4" y="17.2" font-size="21.8" text-anchor="start" font-weight="normal" font-style="normal" stroke="#000" stroke-width="0.5">B</text>
</svg></body></html>
